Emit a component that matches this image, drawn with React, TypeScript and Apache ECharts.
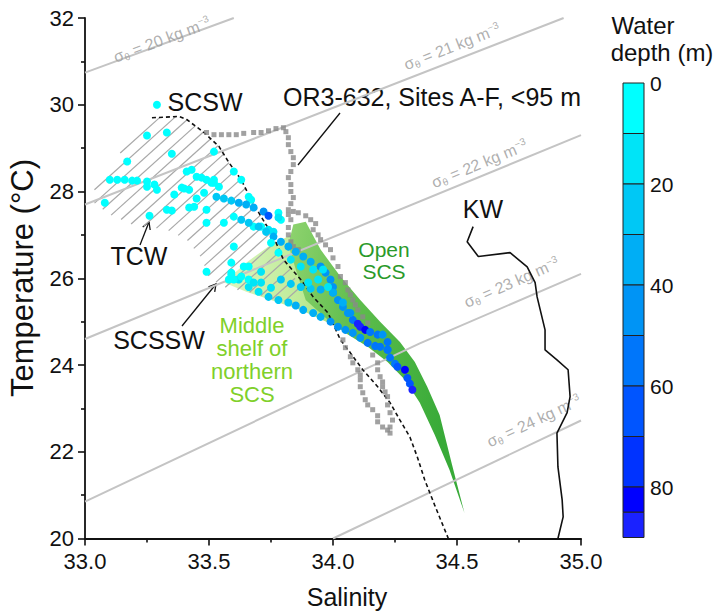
import React, { useEffect, useRef } from 'react';
import * as echarts from 'echarts';

const FONT = 'Liberation Sans, Arial, Helvetica, sans-serif';

// Axis ranges
const salinityRange = [33.0, 35.0];
const temperatureRange = [20, 32];

// CTD points, OR3-632 Sites A-F: [salinity, temperature, depth (m)]
const tcwPoints = [
  [33.29, 30.0, 2], [33.25, 29.29, 4], [33.33, 29.36, 4], [33.35, 28.87, 5], [33.17, 28.69, 4], [33.52, 28.92, 6],
  [33.1, 28.27, 3], [33.13, 28.27, 3], [33.16, 28.27, 3], [33.19, 28.25, 4], [33.21, 28.25, 4], [33.25, 28.23, 4],
  [33.28, 28.16, 5], [33.29, 28.04, 5], [33.25, 28.11, 5], [33.08, 27.74, 3], [33.41, 28.46, 5], [33.43, 28.5, 5],
  [33.45, 28.34, 6], [33.47, 28.32, 6], [33.49, 28.27, 6], [33.52, 28.2, 7], [33.54, 28.11, 7], [33.39, 28.09, 6],
  [33.4, 28.07, 6], [33.42, 28.04, 6], [33.36, 27.93, 5], [33.45, 27.84, 6], [33.48, 27.97, 7], [33.33, 27.58, 5],
  [33.35, 27.56, 5], [33.42, 27.63, 6], [33.44, 27.65, 6], [33.49, 27.58, 7], [33.26, 27.44, 4], [33.49, 27.28, 6],
  [33.56, 27.28, 7], [33.6, 28.46, 7], [33.63, 28.27, 8], [33.66, 27.88, 8], [33.67, 27.81, 8], [33.78, 27.51, 8],
  [33.79, 27.35, 8], [33.6, 27.42, 8], [33.68, 27.19, 8], [33.71, 27.19, 8], [33.74, 27.12, 10], [33.76, 27.07, 10],
  [33.78, 27.4, 10], [33.52, 28.27, 8], [33.51, 28.2, 8],
];
const upperTrackA = [
  [33.53, 27.88, 22], [33.56, 27.84, 25], [33.59, 27.79, 28], [33.62, 27.74, 30], [33.65, 27.7, 32],
  [33.68, 27.63, 35], [33.72, 27.54, 40], [33.74, 27.44, 65],
];
const upperTrackB = [
  [33.63, 27.35, 20], [33.66, 27.28, 22], [33.7, 27.19, 25], [33.73, 27.07, 28], [33.76, 26.96, 30],
  [33.79, 26.84, 32], [33.82, 26.73, 35], [33.85, 26.61, 35], [33.88, 26.5, 38], [33.91, 26.38, 38],
  [33.95, 26.27, 40], [33.97, 26.13, 40], [33.99, 25.97, 42], [34.0, 25.8, 42], [34.0, 25.67, 45],
  [34.02, 25.5, 45], [34.04, 25.34, 45], [34.06, 25.2, 48], [34.08, 25.04, 50], [34.1, 24.95, 85],
  [34.11, 24.88, 88], [34.13, 24.81, 80],
];
const midTrack = [
  [33.79, 25.97, 20], [33.83, 25.87, 22], [33.87, 25.8, 25], [33.91, 25.76, 28], [33.95, 25.74, 30],
  [34.0, 25.67, 32], [34.04, 25.44, 38], [34.07, 25.2, 42],
];
const lowerTrack = [
  [33.59, 26.13, 8], [33.62, 25.97, 10], [33.66, 25.8, 12], [33.7, 25.69, 15], [33.74, 25.57, 20],
  [33.78, 25.5, 25], [33.82, 25.44, 28], [33.85, 25.37, 30], [33.88, 25.27, 32], [33.92, 25.2, 35],
  [33.95, 25.11, 38], [33.99, 25.0, 40], [34.02, 24.88, 42], [34.05, 24.81, 45], [34.08, 24.74, 45],
  [34.11, 24.63, 48], [34.14, 24.51, 50], [34.17, 24.44, 50], [34.19, 24.42, 52], [34.22, 24.35, 52],
  [34.23, 24.17, 55], [34.25, 24.03, 58], [34.26, 23.96, 60], [34.29, 23.89, 82], [34.3, 23.7, 62],
  [34.31, 23.57, 65], [34.32, 23.43, 86],
];
const loopTrack = [
  [34.15, 24.76, 50], [34.18, 24.7, 50], [34.2, 24.7, 48], [34.22, 24.53, 50], [34.22, 24.35, 52],
];
const scsswPoints = [
  [33.49, 26.15, 3], [33.6, 26.73, 5], [33.64, 26.27, 6], [33.59, 26.08, 5], [33.58, 25.97, 6],
  [33.6, 25.97, 6], [33.63, 26.04, 8], [33.66, 25.97, 8], [33.68, 25.9, 10], [33.71, 25.9, 10],
  [33.75, 25.78, 12], [33.59, 26.36, 6], [33.66, 26.27, 8], [33.71, 26.15, 10], [33.75, 26.82, 6],
  [33.78, 26.59, 8], [33.83, 26.43, 10], [33.87, 26.27, 12], [33.92, 26.2, 15], [33.96, 26.2, 15],
  [33.94, 25.97, 15], [33.9, 25.9, 12], [33.98, 25.8, 18],
];

// OR3-632 reference profile (grey squares): [salinity, temperature]
const or3Upper = [
  [33.49, 29.36], [33.52, 29.31], [33.55, 29.31], [33.58, 29.31], [33.61, 29.31], [33.64, 29.34],
  [33.68, 29.36], [33.71, 29.36], [33.74, 29.4], [33.77, 29.45], [33.8, 29.47], [33.81, 29.38],
  [33.82, 29.24], [33.82, 29.08], [33.83, 28.92], [33.84, 28.78], [33.84, 28.62], [33.83, 28.46],
  [33.82, 28.32], [33.83, 28.16], [33.83, 28.0], [33.84, 27.86], [33.83, 27.72], [33.82, 27.58],
  [33.82, 27.47], [33.84, 27.54], [33.86, 27.51], [33.89, 27.44], [33.91, 27.35], [33.93, 27.26],
  [33.83, 27.35], [33.82, 27.17], [33.82, 27.0], [33.83, 26.84], [33.84, 26.73], [33.86, 26.66],
];
const or3Middle = [
  [33.92, 27.12], [33.94, 27.0], [33.95, 26.89], [33.97, 26.77], [33.99, 26.66], [34.0, 26.47],
  [34.02, 26.27], [34.03, 26.04], [34.05, 25.9], [34.06, 25.73], [34.07, 25.62], [34.08, 25.5],
  [34.09, 25.39], [34.1, 25.27], [34.12, 25.11], [34.14, 24.97],
];
const or3Lower = [
  [34.04, 24.58], [34.05, 24.4], [34.07, 24.19], [34.08, 24.05], [34.1, 23.89], [34.11, 23.77],
  [34.11, 23.66], [34.11, 23.5], [34.12, 23.36], [34.13, 23.2], [34.14, 23.08], [34.16, 22.97],
  [34.18, 22.83], [34.18, 22.69], [34.2, 22.57], [34.22, 22.5],
  [34.16, 24.23], [34.18, 24.05], [34.18, 23.89], [34.19, 23.73], [34.2, 23.61], [34.2, 23.5],
  [34.21, 23.38], [34.22, 23.27], [34.22, 23.08], [34.23, 22.9], [34.24, 22.73], [34.23, 22.57], [34.23, 22.43],
];

// SCSW envelope (dashed)
const scswBoundary = [
  [33.27, 29.7], [33.38, 29.73], [33.41, 29.66], [33.48, 29.36], [33.54, 29.04], [33.58, 28.67],
  [33.63, 28.27], [33.67, 27.81], [33.71, 27.42], [33.76, 26.96], [33.8, 26.43], [33.87, 25.97],
  [33.92, 25.57], [33.98, 25.2], [34.03, 24.58], [34.07, 24.28], [34.12, 23.89], [34.18, 23.5],
  [34.23, 23.13], [34.27, 22.73], [34.31, 22.34], [34.34, 21.88], [34.37, 21.35], [34.41, 20.77], [34.465, 20.0],
];
// Kuroshio water profile
const kwProfile = [
  [34.565, 27.19], [34.541, 26.84], [34.586, 26.5], [34.714, 26.59], [34.783, 26.26], [34.815, 25.9],
  [34.823, 25.57], [34.855, 24.81], [34.855, 24.35], [34.903, 24.12], [34.948, 23.89], [34.956, 23.27],
  [34.944, 22.9], [34.903, 22.43], [34.907, 21.65], [34.924, 20.89], [34.928, 20.5], [34.907, 20.0],
];
// Water-mass envelopes
const openScsArea = [
  [33.84, 27.24], [33.89, 27.3], [33.95, 26.66], [34.03, 26.04], [34.11, 25.5], [34.19, 25.0],
  [34.27, 24.53], [34.33, 24.07], [34.38, 23.5], [34.43, 22.85], [34.48, 21.7], [34.53, 20.59],
  [34.47, 21.58], [34.41, 22.39], [34.35, 23.13], [34.29, 23.66], [34.22, 24.07], [34.14, 24.42],
  [34.05, 24.74], [33.97, 25.09], [33.89, 25.5], [33.85, 26.2], [33.82, 26.77],
];
const middleShelfArea = [
  [33.56, 25.9], [33.65, 26.36], [33.74, 26.73], [33.83, 27.0], [33.91, 26.43], [33.99, 25.5],
  [34.07, 24.81], [33.99, 24.95], [33.87, 25.27], [33.75, 25.5], [33.65, 25.69],
];
const scswHatchArea = [
  [33.27, 29.7], [33.38, 29.73], [33.41, 29.66], [33.48, 29.36], [33.54, 29.04], [33.58, 28.67],
  [33.63, 28.27], [33.67, 27.81], [33.71, 27.42], [33.76, 26.96], [33.8, 26.47], [33.85, 25.97],
  [33.87, 25.5], [33.79, 25.46], [33.67, 25.67], [33.56, 25.8], [33.5, 26.01], [33.47, 26.47],
  [33.41, 26.89], [33.33, 27.12], [33.19, 27.24], [33.1, 27.47], [33.02, 27.81], [33.06, 28.32], [33.16, 29.01],
];

// Potential density isolines
const sigmaLines = [
  { sigma: 20, pts: [[33.0, 30.74], [33.6, 32.0]] },
  { sigma: 21, pts: [[33.0, 27.7], [34.93, 32.0]] },
  { sigma: 22, pts: [[33.0, 24.6], [35.0, 29.3]] },
  { sigma: 23, pts: [[33.0, 20.85], [34.35, 24.5], [35.0, 26.1]] },
  { sigma: 24, pts: [[34.0, 20.0], [35.0, 22.72]] },
];
const sigmaLabelPos = [
  [33.31, 31.5, 20, 20.5], [34.48, 31.34, 21, 21.2], [34.59, 28.64, 22, 22.3],
  [34.72, 25.9, 23, 23.7], [34.81, 22.71, 24, 25.0],
];

// Colour bar
const depthBreaks = [0, 10, 20, 30, 40, 50, 60, 70, 80, 85, 90];
const depthColors = ['#00ffff', '#00e4f7', '#00c8f5', '#00aef5', '#0094f5', '#0076fa', '#0055ff', '#0033ff', '#0000ff', '#1a22ff'];
const depthTickLabels = [0, 20, 40, 60, 80];

export default function App() {
  const ref = useRef<HTMLDivElement>(null);
  useEffect(() => {
    if (!ref.current) return;
    const chart = echarts.init(ref.current, null, { renderer: 'svg' });

    const ctdPoints = [...tcwPoints, ...upperTrackA, ...upperTrackB, ...midTrack, ...lowerTrack, ...loopTrack, ...scsswPoints];
    const greyPoints = [...or3Upper, ...or3Middle, ...or3Lower];

    const polySeries = (pts: number[][], fill: any, z: number) => ({
      type: 'custom',
      z,
      silent: true,
      data: [[33, 20]],
      encode: { x: 0, y: 1 },
      renderItem: (_p: any, api: any) => ({
        type: 'polygon',
        shape: { points: pts.map((p) => api.coord(p)) },
        style: { fill, stroke: 'none' },
      }),
    });

    const hatchSeries = {
      type: 'custom',
      z: 2,
      silent: true,
      data: [[33, 20]],
      encode: { x: 0, y: 1 },
      renderItem: (_p: any, api: any) => {
        const pts = scswHatchArea.map((p) => api.coord(p));
        const ang = (42 * Math.PI) / 180;
        const dx = Math.cos(ang), dy = -Math.sin(ang);
        const nx = -dy, ny = dx;
        const proj = pts.map((p: number[]) => p[0] * nx + p[1] * ny);
        const cmin = Math.min(...proj), cmax = Math.max(...proj);
        const step = 10;
        const children: any[] = [];
        for (let c = cmin + step / 2; c < cmax; c += step) {
          const hits: number[][] = [];
          for (let i = 0; i < pts.length; i++) {
            const a = pts[i], b = pts[(i + 1) % pts.length];
            const va = proj[i] - c, vb = proj[(i + 1) % pts.length] - c;
            if ((va < 0) !== (vb < 0)) {
              const t = va / (va - vb);
              const x = a[0] + t * (b[0] - a[0]);
              const y = a[1] + t * (b[1] - a[1]);
              hits.push([x, y, x * dx + y * dy]);
            }
          }
          hits.sort((p, q) => p[2] - q[2]);
          for (let k = 0; k + 1 < hits.length; k += 2) {
            children.push({
              type: 'line',
              shape: { x1: hits[k][0], y1: hits[k][1], x2: hits[k + 1][0], y2: hits[k + 1][1] },
              style: { stroke: '#a8a8a8', lineWidth: 1.2 },
            });
          }
        }
        return { type: 'group', children };
      },
    };

    const sigmaFont = { fontFamily: FONT, color: '#9a9a9a', lineHeight: 18 };
    const series: any[] = [
      polySeries(middleShelfArea, new echarts.graphic.LinearGradient(0, 0, 1, 0, [
        { offset: 0, color: '#dcf6c0' }, { offset: 0.6, color: '#bfeb98' }, { offset: 1, color: '#9ada6c' },
      ]), 1),
      polySeries(openScsArea, new echarts.graphic.LinearGradient(0, 0, 1, 0.3, [
        { offset: 0, color: '#8fd36f' }, { offset: 0.45, color: '#5dbd4c' }, { offset: 1, color: '#38aa38' },
      ]), 1),
      hatchSeries,
      ...sigmaLines.map((s) => ({
        type: 'line', z: 3, silent: true, data: s.pts, showSymbol: false, symbol: 'none',
        lineStyle: { color: '#c4c4c4', width: 2 },
      })),
      {
        type: 'scatter', z: 3, silent: true, symbolSize: 0,
        data: sigmaLabelPos.map((d) => ({ value: [d[0], d[1], d[2]], label: { rotate: d[3] } })),
        label: {
          show: true, position: 'inside', color: '#9a9a9a',
          formatter: (p: any) => `{s|σ}{t|θ}{s| = ${p.value[2]} kg m}{u|−3}`,
          rich: {
            s: { ...sigmaFont, fontSize: 16 },
            t: { ...sigmaFont, fontSize: 10, verticalAlign: 'bottom' },
            u: { ...sigmaFont, fontSize: 10, verticalAlign: 'top' },
          },
        },
      },
      {
        type: 'line', z: 4, silent: true, data: scswBoundary, showSymbol: false, symbol: 'none',
        lineStyle: { color: '#111', width: 1.6, type: [4, 3] },
      },
      {
        type: 'line', z: 4, silent: true, data: kwProfile, showSymbol: false, symbol: 'none',
        lineStyle: { color: '#111', width: 1.6 },
      },
      {
        type: 'scatter', z: 5, silent: true, data: greyPoints, symbol: 'rect', symbolSize: 5,
        itemStyle: { color: '#8a8a8a' },
      },
      {
        type: 'scatter', z: 6, silent: true, data: ctdPoints, symbol: 'circle', symbolSize: 8,
        itemStyle: { opacity: 1 },
      },
    ];
    const ctdIndex = series.length - 1;

    // colour bar graphics
    const cbX = 623, cbW = 21, cbTop = 83, pxPerM = 5.05;
    const graphic: any[] = [];
    for (let i = 0; i < depthColors.length; i++) {
      const y0 = cbTop + depthBreaks[i] * pxPerM;
      const y1 = cbTop + depthBreaks[i + 1] * pxPerM;
      graphic.push({
        type: 'rect', shape: { x: cbX, y: y0, width: cbW, height: y1 - y0 },
        style: { fill: depthColors[i], stroke: '#222', lineWidth: 1 },
      });
    }
    depthTickLabels.forEach((d) => {
      graphic.push({
        type: 'text', x: cbX + cbW + 6, y: cbTop + d * pxPerM,
        style: { text: String(d), fontSize: 21, fontFamily: FONT, fill: '#111', align: 'left', verticalAlign: 'middle' },
      });
    });
    const txt = (text: string, x: number, y: number, size: number, color = '#111', align = 'center', rotation = 0) => ({
      type: 'text', x, y, rotation,
      style: { text, fontSize: size, fontFamily: FONT, fill: color, align, verticalAlign: 'middle' },
    });
    graphic.push(
      txt('Water', 643, 25, 24),
      txt('depth (m)', 662, 52, 24),
      txt('SCSW', 205, 102, 25),
      txt('OR3-632, Sites A-F, <95 m', 283, 97, 25, '#111', 'left'),
      txt('TCW', 139, 256, 25),
      txt('SCSSW', 159, 340, 25),
      txt('KW', 483, 209, 25),
      txt('Open', 384, 249, 21, '#2a9a2a'),
      txt('SCS', 384, 271, 21, '#2a9a2a'),
      txt('Middle', 252, 325, 22, '#80d02a'),
      txt('shelf of', 252, 348, 22, '#80d02a'),
      txt('northern', 252, 371, 22, '#80d02a'),
      txt('SCS', 252, 394, 22, '#80d02a'),
      txt('Salinity', 347, 597, 25),
      txt('Temperature (°C)', 22, 278, 31, '#111', 'center', Math.PI / 2),
    );
    const arrow = (tail: number[], head: number[], withHead: boolean) => {
      const els: any[] = [{
        type: 'line', shape: { x1: tail[0], y1: tail[1], x2: head[0], y2: head[1] },
        style: { stroke: '#111', lineWidth: 1.3 },
      }];
      if (withHead) {
        const L = Math.hypot(head[0] - tail[0], head[1] - tail[1]);
        const ux = (head[0] - tail[0]) / L, uy = (head[1] - tail[1]) / L;
        const px = -uy, py = ux;
        els.push({
          type: 'polyline',
          shape: { points: [[head[0] - 7 * ux + 4 * px, head[1] - 7 * uy + 4 * py], head, [head[0] - 7 * ux - 4 * px, head[1] - 7 * uy - 4 * py]] },
          style: { stroke: '#111', lineWidth: 1.3, fill: 'none' },
        });
      }
      return els;
    };
    graphic.push(...arrow([140, 245], [149, 222], true));
    graphic.push(...arrow([182, 326], [216, 284], true));
    graphic.push(...arrow([340, 113], [298, 165], false));

    chart.setOption({
      animation: false,
      grid: { left: 85, right: 138, top: 18, bottom: 72.5, containLabel: false, outerBoundsMode: 'none' },
      xAxis: {
        type: 'value', min: salinityRange[0], max: salinityRange[1], interval: 0.5,
        axisLine: { onZero: false, lineStyle: { color: '#111', width: 1.8 } },
        axisTick: { length: 7, lineStyle: { color: '#111', width: 1.6 } },
        minorTick: { show: true, splitNumber: 2, length: 4, lineStyle: { color: '#111', width: 1.6 } },
        splitLine: { show: false },
        axisLabel: { fontSize: 22, fontFamily: FONT, color: '#111', margin: 12, formatter: (v: number) => v.toFixed(1) },
      },
      yAxis: {
        type: 'value', min: temperatureRange[0], max: temperatureRange[1], interval: 2,
        axisLine: { onZero: false, lineStyle: { color: '#111', width: 1.8 } },
        axisTick: { length: 7, lineStyle: { color: '#111', width: 1.6 } },
        minorTick: { show: true, splitNumber: 2, length: 4, lineStyle: { color: '#111', width: 1.6 } },
        splitLine: { show: false },
        axisLabel: { fontSize: 22, fontFamily: FONT, color: '#111', margin: 11 },
      },
      visualMap: {
        type: 'piecewise', show: false, dimension: 2, seriesIndex: ctdIndex,
        pieces: depthColors.map((c, i) => ({ gte: depthBreaks[i], lt: depthBreaks[i + 1], color: c })),
      },
      series,
      graphic,
    });
    return () => chart.dispose();
  }, []);
  return <div ref={ref} style={{ position: 'fixed', left: 0, top: 0, width: 719, height: 611, background: '#fff' }} />;
}
